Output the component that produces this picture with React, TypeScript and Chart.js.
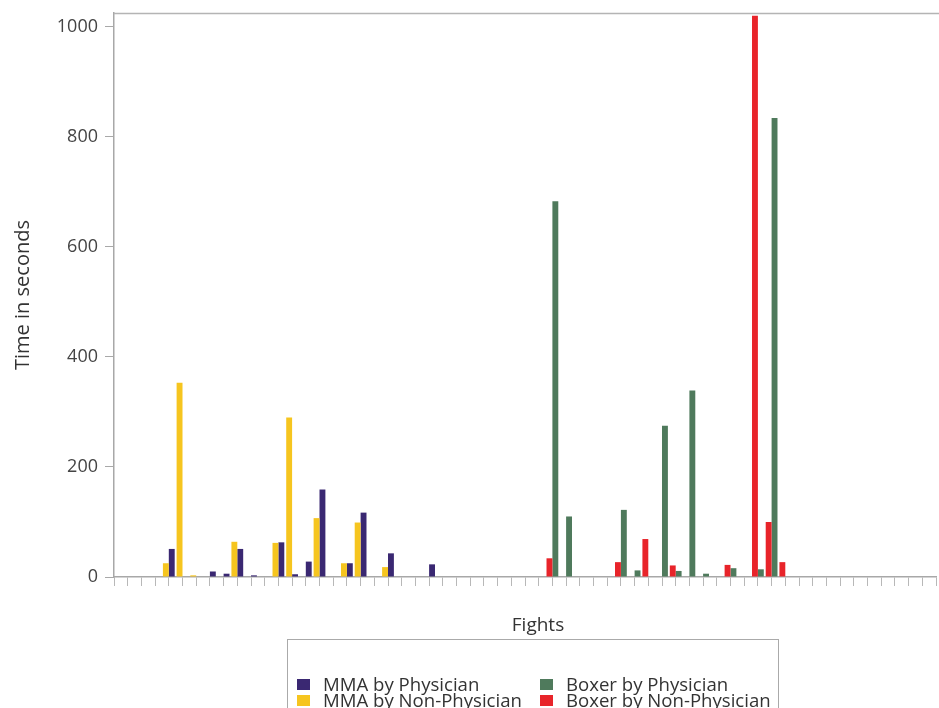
import React, { useEffect, useRef } from "react";
import { Chart, registerables } from "chart.js";

Chart.register(...registerables);

const FONT = "'Open Sans', 'Noto Sans', sans-serif";

// 61 fight positions (index 0..60), no tick labels in the original
const fightLabels: string[] = Array.from({ length: 61 }, () => "");

// [fight index, seconds]
const mmaPhysician: [number, number][] = [
  [4, 51], [7, 10], [8, 6], [9, 51], [10, 3], [12, 63], [13, 5], [14, 28],
  [15, 159], [17, 25], [18, 117], [20, 43], [23, 23],
];
const mmaNonPhysician: [number, number][] = [
  [4, 25], [5, 353], [6, 3], [9, 64], [12, 62], [13, 290], [15, 107],
  [17, 25], [18, 99], [20, 18],
];
const boxerPhysician: [number, number][] = [
  [32, 683], [33, 110], [37, 122], [38, 12], [40, 275], [41, 11], [42, 339],
  [43, 6], [45, 16], [47, 14], [48, 834],
];
const boxerNonPhysician: [number, number][] = [
  [32, 34], [37, 27], [39, 69], [41, 21], [45, 22], [47, 1020], [48, 100], [49, 27],
];

const yTicks = [0, 200, 400, 600, 800, 1000];
const yMax = 1025;

const seriesNames = ["MMA by Physician", "MMA by Non-Physician", "Boxer by Physician", "Boxer by Non-Physician"];
const seriesColors = ["#3a2872", "#f6c51f", "#4f7a5c", "#e8242a"];

function toSeries(points: [number, number][]): (number | null)[] {
  const arr: (number | null)[] = fightLabels.map(() => null);
  points.forEach(([i, v]) => { arr[i] = v; });
  return arr;
}

export default function App() {
  const canvasRef = useRef<HTMLCanvasElement | null>(null);

  useEffect(() => {
    document.body.style.margin = "0";
    const canvas = canvasRef.current;
    if (!canvas) return;

    const borderPlugin = {
      id: "frameAndTitle",
      afterDraw(chart: any) {
        const { ctx, chartArea } = chart;
        ctx.save();
        ctx.strokeStyle = "#b4b4b4";
        ctx.lineWidth = 1.5;
        ctx.beginPath();
        ctx.moveTo(chartArea.left, chartArea.top + 0.5);
        ctx.lineTo(chart.width, chartArea.top + 0.5);
        ctx.stroke();
        ctx.fillStyle = "#333333";
        ctx.font = `19px ${FONT}`;
        ctx.textAlign = "center";
        ctx.textBaseline = "middle";
        ctx.fillText("Fights", 538, 626);
        ctx.restore();
      },
    };

    const common = { categoryPercentage: 0.86, barPercentage: 1.0, borderWidth: 0 };

    const chart = new Chart(canvas, {
      type: "bar",
      data: {
        labels: fightLabels,
        datasets: [
          { label: seriesNames[1], data: toSeries(mmaNonPhysician), backgroundColor: seriesColors[1], stack: "left", ...common },
          { label: seriesNames[0], data: toSeries(mmaPhysician), backgroundColor: seriesColors[0], stack: "right", ...common },
          { label: seriesNames[3], data: toSeries(boxerNonPhysician), backgroundColor: seriesColors[3], stack: "left", ...common },
          { label: seriesNames[2], data: toSeries(boxerPhysician), backgroundColor: seriesColors[2], stack: "right", ...common },
        ],
      },
      options: {
        animation: false,
        responsive: false,
        maintainAspectRatio: false,
        layout: { padding: { top: 13, right: 3, bottom: 0, left: 0 } },
        plugins: { legend: { display: false }, tooltip: { enabled: false } },
        scales: {
          x: {
            stacked: true,
            offset: false,
            grid: { display: true, drawOnChartArea: false, drawTicks: true, tickLength: 9, color: "#b8b8b8", offset: false },
            border: { display: true, color: "#a8a8a8", width: 1.5 },
            ticks: { display: true, autoSkip: false, maxRotation: 0, font: { size: 1 } },
            afterFit: (axis: any) => {
              axis.height = 708 - 577;
              axis.paddingLeft = 0;
              axis.paddingRight = 0;
            },
          },
          y: {
            stacked: true,
            min: 0,
            max: yMax,
            afterBuildTicks: (axis: any) => { axis.ticks = yTicks.map((v) => ({ value: v })); },
            grid: { display: true, drawOnChartArea: false, drawTicks: true, tickLength: 9, color: "#a8a8a8" },
            border: { display: true, color: "#a8a8a8", width: 1.5 },
            ticks: { color: "#444444", padding: 7, font: { family: FONT, size: 18 }, callback: (v: any) => String(v) },
            title: { display: true, text: "Time in seconds", color: "#333333", font: { family: FONT, size: 20 }, padding: { top: 11, bottom: 0 } },
            afterFit: (axis: any) => {
              axis.width = 114;
              axis.paddingTop = 0;
              axis.paddingBottom = 0;
            },
          },
        },
      },
      plugins: [borderPlugin],
    });
    return () => chart.destroy();
  }, []);

  const legendItems = [
    { name: seriesNames[0], color: seriesColors[0] },
    { name: seriesNames[2], color: seriesColors[2] },
    { name: seriesNames[1], color: seriesColors[1] },
    { name: seriesNames[3], color: seriesColors[3] },
  ];

  return (
    <div style={{ position: "absolute", left: 0, top: 0, width: 939, height: 708, overflow: "hidden", background: "#fff" }}>
      <canvas ref={canvasRef} width={939} height={708} style={{ position: "absolute", left: 0, top: 0, width: 939, height: 708 }} />
      <div
        style={{
          position: "absolute", left: 287, top: 639, width: 492, height: 90,
          border: "1.5px solid #aaaaaa", boxSizing: "border-box",
          fontFamily: FONT, fontSize: 18.6, color: "#333",
        }}
      >
        {legendItems.map((it, k) => (
          <div
            key={it.name}
            style={{
              position: "absolute",
              left: k % 2 === 0 ? 9 : 252,
              top: k < 2 ? 36 : 52,
              display: "flex", alignItems: "center", whiteSpace: "nowrap", lineHeight: "16px",
            }}
          >
            <span style={{ display: "inline-block", width: 13, height: 11, background: it.color, marginRight: 13 }} />
            <span>{it.name}</span>
          </div>
        ))}
      </div>
    </div>
  );
}
